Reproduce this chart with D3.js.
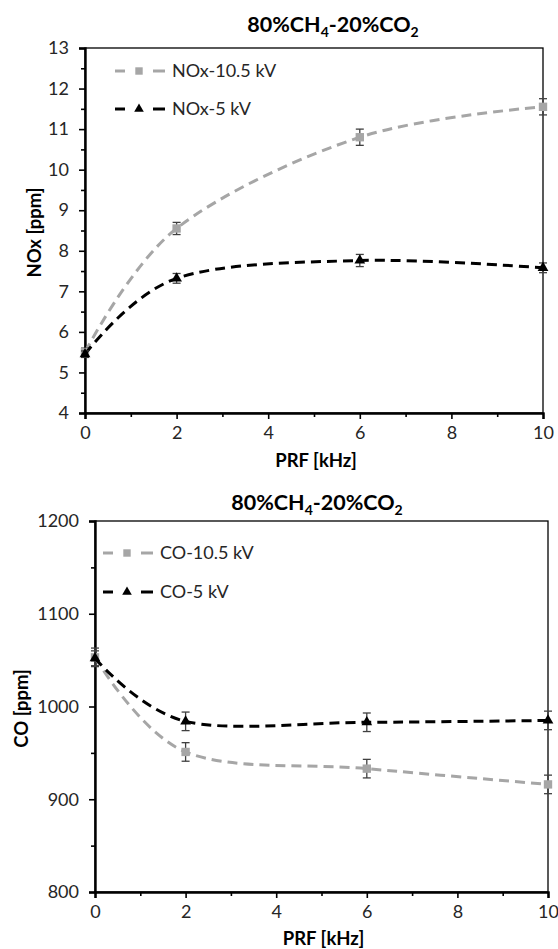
<!DOCTYPE html>
<html><head><meta charset="utf-8">
<script src="https://cdn.jsdelivr.net/npm/d3@7"></script>
<style>body{margin:0;background:#fff}svg{display:block}text{font-family:Lato,"Open Sans",sans-serif}</style>
</head><body>
<script>
const prf = [0, 2, 6, 10];
const nox105 = [5.5, 8.55, 10.8, 11.55];
const nox105Err = [0.1, 0.15, 0.2, 0.2];
const nox5 = [5.45, 7.32, 7.76, 7.58];
const nox5Err = [0.08, 0.12, 0.15, 0.12];
const co105 = [1053, 951, 933, 916];
const co105Err = [10, 10, 10, 10];
const co5 = [1052, 984, 983, 985];
const co5Err = [8, 10, 10, 10];
const xTicks = [0, 2, 4, 6, 8, 10];
const noxTicks = [4, 5, 6, 7, 8, 9, 10, 11, 12, 13];
const coTicks = [800, 900, 1000, 1100, 1200];

const svg = d3.select("body").append("svg").attr("width", 558).attr("height", 949);
const GRAY = "#a6a6a6", EB = "#404040", TXT = "#262626";

function panel(o) {
  const g = svg.append("g");
  const x = d3.scaleLinear().domain([0, 10]).range([o.left, o.right]);
  const y = d3.scaleLinear().domain(o.ydom).range([o.bottom, o.top]);
  g.append("rect").attr("x", o.left).attr("y", o.top).attr("width", o.right - o.left).attr("height", o.bottom - o.top)
    .attr("fill", "none").attr("stroke", "#000").attr("stroke-width", 1.3);
  g.append("g").attr("transform", `translate(0,${o.bottom})`)
    .call(d3.axisBottom(x).tickValues(xTicks).tickSize(6).tickPadding(7));
  g.append("g").attr("transform", `translate(0,${o.bottom})`)
    .call(d3.axisBottom(x).tickValues(d3.range(1, 10, 2)).tickSize(4).tickFormat(""))
    .call(a => a.select(".domain").remove());
  g.append("g").attr("transform", `translate(${o.left},0)`)
    .call(d3.axisLeft(y).tickValues(o.yticks).tickSize(6).tickPadding(10).tickFormat(d3.format("d")));
  g.append("g").attr("transform", `translate(${o.left},0)`)
    .call(d3.axisLeft(y).tickValues(o.minor).tickSize(4).tickFormat(""))
    .call(a => a.select(".domain").remove());
  g.selectAll(".domain").attr("stroke-width", 2.4);
  g.selectAll(".tick line").attr("stroke-width", 1.6);
  g.selectAll(".tick text").attr("font-size", 18).attr("fill", TXT);
  const t = g.append("text").attr("x", o.titleX).attr("y", o.titleY).attr("text-anchor", "middle")
    .attr("font-weight", "bold").attr("font-size", 21.5).attr("fill", "#000");
  t.append("tspan").text("80%CH");
  t.append("tspan").text("4").attr("font-size", 14).attr("dy", 5);
  t.append("tspan").text("-20%CO").attr("dy", -5);
  t.append("tspan").text("2").attr("font-size", 14).attr("dy", 5);
  g.append("text").attr("x", (o.left + o.right) / 2 + 2).attr("y", o.xlabY).attr("text-anchor", "middle")
    .attr("font-weight", "bold").attr("font-size", 18.5).attr("fill", "#000").text("PRF [kHz]");
  g.append("text").attr("transform", `translate(${o.ylabX},${(o.top + o.bottom) / 2 + 2}) rotate(-90)`)
    .attr("text-anchor", "middle").attr("font-weight", "bold").attr("font-size", 18.5).attr("fill", "#000").text(o.ylab);

  o.series.forEach(s => {
    const pts = prf.map((p, i) => ({x: p, y: s.vals[i], e: s.err[i]}));
    g.append("path").datum(pts).attr("fill", "none").attr("stroke", s.color).attr("stroke-width", 3)
      .attr("stroke-dasharray", "10,6")
      .attr("d", d3.line().x(d => x(d.x)).y(d => y(d.y)).curve(d3.curveCardinal.tension(0)));
    const eb = g.append("g").attr("stroke", EB).attr("stroke-width", 1.3);
    pts.forEach(d => {
      eb.append("line").attr("x1", x(d.x)).attr("x2", x(d.x)).attr("y1", y(d.y - d.e)).attr("y2", y(d.y + d.e));
      [d.y - d.e, d.y + d.e].forEach(v => eb.append("line").attr("x1", x(d.x) - 4).attr("x2", x(d.x) + 4).attr("y1", y(v)).attr("y2", y(v)));
    });
    const sym = d3.symbol().type(s.shape).size(s.shape === d3.symbolSquare ? 70 : 50);
    g.selectAll(null).data(pts).enter().append("path").attr("d", sym)
      .attr("transform", d => `translate(${x(d.x)},${y(d.y)})`).attr("fill", s.color);
  });
  o.series.forEach((s, i) => {
    const ly = o.legY + i * o.legGap;
    [[0, 10], [38, 50]].forEach(([a, b]) => g.append("line").attr("x1", o.legX + a).attr("x2", o.legX + b)
      .attr("y1", ly).attr("y2", ly).attr("stroke", s.color).attr("stroke-width", 3));
    g.append("path").attr("d", d3.symbol().type(s.shape).size(s.shape === d3.symbolSquare ? 55 : 40))
      .attr("transform", `translate(${o.legX + 24},${ly})`).attr("fill", s.color);
    g.append("text").attr("x", o.legX + 57).attr("y", ly + 6).attr("font-size", 18).attr("fill", TXT).text(s.name);
  });
}

panel({left: 85, right: 543, top: 48, bottom: 413, ydom: [4, 13], yticks: noxTicks,
  minor: d3.range(4.5, 13, 1), titleX: 333, titleY: 32, xlabY: 467, ylabX: 41, ylab: "NOx [ppm]",
  legX: 115, legY: 71, legGap: 38,
  series: [
    {name: "NOx-10.5 kV", vals: nox105, err: nox105Err, color: GRAY, shape: d3.symbolSquare},
    {name: "NOx-5 kV", vals: nox5, err: nox5Err, color: "#000", shape: d3.symbolTriangle}
  ]});

panel({left: 95, right: 548, top: 521, bottom: 892, ydom: [800, 1200], yticks: coTicks,
  minor: [850, 950, 1050, 1150], titleX: 317, titleY: 510, xlabY: 945, ylabX: 28, ylab: "CO [ppm]",
  legX: 103, legY: 553, legGap: 39,
  series: [
    {name: "CO-10.5 kV", vals: co105, err: co105Err, color: GRAY, shape: d3.symbolSquare},
    {name: "CO-5 kV", vals: co5, err: co5Err, color: "#000", shape: d3.symbolTriangle}
  ]});
</script>
</body></html>
